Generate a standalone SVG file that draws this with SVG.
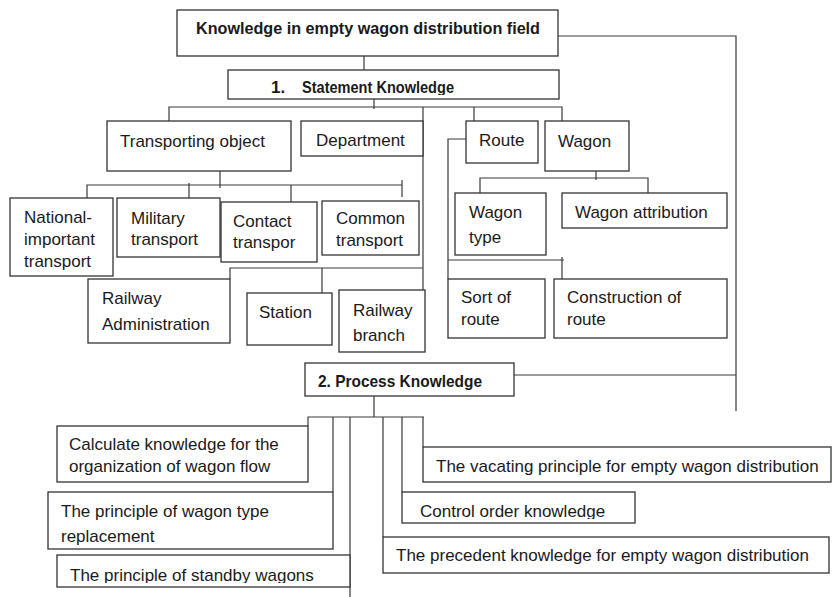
<svg xmlns="http://www.w3.org/2000/svg" width="833" height="597" viewBox="0 0 833 597">
<style>
.box{fill:#fff;stroke:#333;stroke-width:1.3}
.t{font-family:"Liberation Sans",Arial,sans-serif;font-size:17px;fill:#1a1a1a}
.b{font-weight:bold}
.c{fill:none;stroke:#3a3a3a;stroke-width:1.2}
</style>
<defs>
<clipPath id="clipStatement"><rect x="228" y="70" width="331" height="25"/></clipPath>
<clipPath id="clipProcess"><rect x="305" y="363" width="209" height="28"/></clipPath>
<clipPath id="clipReplacement"><rect x="48" y="492" width="285" height="53"/></clipPath>
<clipPath id="clipStandby"><rect x="57" y="555" width="293" height="28"/></clipPath>
<clipPath id="clipControl"><rect x="402" y="492" width="233" height="27"/></clipPath>
</defs>
<rect width="833" height="597" fill="#fff"/>
<g id="connectors">
<path class="c" d="M364 53V70"/>
<path class="c" d="M558 36H736V411"/>
<path class="c" d="M514 375H736"/>
<path class="c" d="M374 98V109"/>
<path class="c" d="M169 121V107H562V121"/>
<path class="c" d="M474 107V121"/>
<path class="c" d="M423 107V290"/>
<path class="c" d="M220 168V188"/>
<path class="c" d="M87 198V185H402"/>
<path class="c" d="M402 180V197"/>
<path class="c" d="M189 183V198"/>
<path class="c" d="M291 185V202"/>
<path class="c" d="M230 279V268H423"/>
<path class="c" d="M322 268V293"/>
<path class="c" d="M466 139H448V279"/>
<path class="c" d="M448 260H564"/>
<path class="c" d="M562 257V282"/>
<path class="c" d="M596 168V180"/>
<path class="c" d="M480 193V178H648V193"/>
<path class="c" d="M374 396V417"/>
<path class="c" d="M308 426V417H424"/>
<path class="c" d="M333 417V492"/>
<path class="c" d="M350 417V597"/>
<path class="c" d="M383 417V537"/>
<path class="c" d="M402 417V492"/>
<path class="c" d="M423 417V447"/>
</g>
<g id="root">
<rect class="box" x="177" y="10" width="381" height="46"/>
<text class="t b" x="196" y="34" font-size="16" textLength="344" lengthAdjust="spacingAndGlyphs">Knowledge in empty wagon distribution field</text>
</g>
<g id="statement">
<rect class="box" x="228" y="70" width="331" height="29"/>
<g clip-path="url(#clipStatement)">
<text class="t b" x="271" y="93" font-size="14.5">1.</text>
<text class="t b" x="302" y="93" font-size="14.5" textLength="152" lengthAdjust="spacingAndGlyphs">Statement Knowledge</text>
</g>
</g>
<g id="transporting">
<rect class="box" x="107" y="121" width="184" height="50"/>
<text class="t" x="120" y="147">Transporting object</text>
</g>
<g id="department">
<rect class="box" x="301" y="121" width="122" height="35"/>
<text class="t" x="316" y="146">Department</text>
</g>
<g id="route">
<rect class="box" x="466" y="121" width="72" height="42"/>
<text class="t" x="479" y="146">Route</text>
</g>
<g id="wagon">
<rect class="box" x="545" y="121" width="84" height="50"/>
<text class="t" x="558" y="147">Wagon</text>
</g>
<g id="national">
<rect class="box" x="10" y="198" width="103" height="78"/>
<text class="t" x="24" y="223">National-</text>
<text class="t" x="24" y="245">important</text>
<text class="t" x="24" y="267">transport</text>
</g>
<g id="military">
<rect class="box" x="117" y="198" width="103" height="59"/>
<text class="t" x="131" y="224">Military</text>
<text class="t" x="131" y="245">transport</text>
</g>
<g id="contact">
<rect class="box" x="221" y="202" width="96" height="60"/>
<text class="t" x="233" y="227">Contact</text>
<text class="t" x="233" y="248">transpor</text>
</g>
<g id="common">
<rect class="box" x="322" y="201" width="97" height="54"/>
<text class="t" x="336" y="224">Common</text>
<text class="t" x="336" y="246">transport</text>
</g>
<g id="wagontype">
<rect class="box" x="455" y="193" width="91" height="62"/>
<text class="t" x="469" y="218">Wagon</text>
<text class="t" x="469" y="243">type</text>
</g>
<g id="wagonattribution">
<rect class="box" x="562" y="193" width="165" height="35"/>
<text class="t" x="575" y="218">Wagon attribution</text>
</g>
<g id="railwayadmin">
<rect class="box" x="88" y="279" width="142" height="64"/>
<text class="t" x="102" y="304">Railway</text>
<text class="t" x="102" y="330">Administration</text>
</g>
<g id="station">
<rect class="box" x="247" y="293" width="85" height="52"/>
<text class="t" x="259" y="318">Station</text>
</g>
<g id="railwaybranch">
<rect class="box" x="339" y="290" width="86" height="62"/>
<text class="t" x="353" y="316">Railway</text>
<text class="t" x="353" y="341">branch</text>
</g>
<g id="sortofroute">
<rect class="box" x="448" y="279" width="97" height="59"/>
<text class="t" x="461" y="303">Sort of</text>
<text class="t" x="461" y="325">route</text>
</g>
<g id="construction">
<rect class="box" x="554" y="279" width="173" height="59"/>
<text class="t" x="567" y="303">Construction of</text>
<text class="t" x="567" y="325">route</text>
</g>
<g id="process">
<rect class="box" x="305" y="363" width="209" height="33"/>
<g clip-path="url(#clipProcess)">
<text class="t b" x="318" y="387" font-size="15.5" textLength="164" lengthAdjust="spacingAndGlyphs">2. Process Knowledge</text>
</g>
</g>
<g id="calculate">
<rect class="box" x="57" y="426" width="251" height="56"/>
<text class="t" x="69" y="450">Calculate knowledge for the</text>
<text class="t" x="69" y="472">organization of wagon flow</text>
</g>
<g id="vacating">
<rect class="box" x="423" y="447" width="408" height="35"/>
<text class="t" x="436" y="472">The vacating principle for empty wagon distribution</text>
</g>
<g id="wagontypereplacement">
<rect class="box" x="48" y="492" width="285" height="57"/>
<g clip-path="url(#clipReplacement)">
<text class="t" x="61" y="517">The principle of wagon type</text>
<text class="t" x="61" y="542">replacement</text>
</g>
</g>
<g id="controlorder">
<rect class="box" x="402" y="492" width="233" height="31"/>
<g clip-path="url(#clipControl)">
<text class="t" x="420" y="517">Control order knowledge</text>
</g>
</g>
<g id="precedent">
<rect class="box" x="383" y="537" width="446" height="36"/>
<text class="t" x="396" y="561">The precedent knowledge for empty wagon distribution</text>
</g>
<g id="standby">
<rect class="box" x="57" y="555" width="293" height="32"/>
<g clip-path="url(#clipStandby)">
<text class="t" x="70" y="581">The principle of standby wagons</text>
</g>
</g>
</svg>
